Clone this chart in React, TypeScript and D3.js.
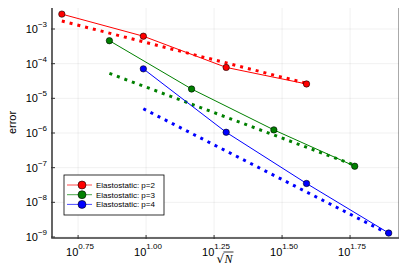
import React, { useEffect, useRef } from 'react';
import * as d3 from 'd3';

// sqrt(N) and error per series
const labels = ['Elastostatic: p=2', 'Elastostatic: p=3', 'Elastostatic: p=4'];
const colors = ['#ff0000', '#008000', '#0000ff'];
const xP2 = [4.9, 9.77, 19.7, 38.9];
const yP2 = [2.69e-3, 6.2e-4, 7.8e-5, 2.6e-5];
const xP3 = [7.33, 14.7, 29.5, 58.5];
const yP3 = [4.6e-4, 1.86e-5, 1.23e-6, 1.1e-7];
const xP4 = [9.77, 19.7, 38.9, 78.0];
const yP4 = [7.1e-5, 1.05e-6, 3.5e-8, 1.3e-9];
// reference slope lines (end points)
const refX = [[4.9, 38.9], [7.33, 58.5], [9.77, 78.0]];
const refY = [[1.7e-3, 2.7e-5], [5.25e-5, 1.17e-7], [5.0e-6, 1.23e-9]];
const xTicks = [0.75, 1.0, 1.25, 1.5, 1.75];
const yTicks = [-3, -4, -5, -6, -7, -8, -9];

const W = 407;
const H = 271;
const left = 52, right = 399, top = 7, bottom = 238;

export default function App() {
  const ref = useRef<SVGSVGElement>(null);

  useEffect(() => {
    const svg = d3.select(ref.current);
    svg.selectAll('*').remove();

    const x = d3.scaleLog().domain([10 ** 0.654, 10 ** 1.93]).range([left, right]);
    const y = d3.scaleLog().domain([10 ** -9.029, 10 ** -2.365]).range([bottom, top]);

    svg.append('rect').attr('width', W).attr('height', H).attr('fill', 'white');

    // grid
    const g = svg.append('g');
    g.selectAll('.gx').data(xTicks).join('line')
      .attr('x1', d => x(10 ** d)).attr('x2', d => x(10 ** d))
      .attr('y1', top).attr('y2', bottom)
      .attr('stroke', '#000').attr('stroke-opacity', 0.1).attr('stroke-width', 0.6);
    g.selectAll('.gy').data(yTicks).join('line')
      .attr('y1', d => y(10 ** d)).attr('y2', d => y(10 ** d))
      .attr('x1', left).attr('x2', right)
      .attr('stroke', '#000').attr('stroke-opacity', 0.1).attr('stroke-width', 0.6);

    // frame
    svg.append('rect')
      .attr('x', left).attr('y', top).attr('width', right - left).attr('height', bottom - top)
      .attr('fill', 'none').attr('stroke', '#555').attr('stroke-width', 1);
    svg.append('path')
      .attr('d', `M${left},${top}V${bottom}H${right}`)
      .attr('fill', 'none').attr('stroke', '#555').attr('stroke-width', 1.6);

    // tick marks
    svg.selectAll('.tx').data(xTicks).join('line')
      .attr('x1', d => x(10 ** d)).attr('x2', d => x(10 ** d))
      .attr('y1', bottom + 1).attr('y2', bottom - 3)
      .attr('stroke', '#333');
    svg.selectAll('.ty').data(yTicks).join('line')
      .attr('y1', d => y(10 ** d)).attr('y2', d => y(10 ** d))
      .attr('x1', left - 1).attr('x2', left + 3)
      .attr('stroke', '#333');

    const font = 'Liberation Sans, Arial, sans-serif';

    // y tick labels
    const yl = svg.selectAll('.yl').data(yTicks).join('text')
      .attr('x', left - 5).attr('y', d => y(10 ** d) + 4)
      .attr('text-anchor', 'end')
      .attr('font-family', font).attr('font-size', 11).attr('fill', '#000');
    yl.append('tspan').text('10');
    yl.append('tspan').attr('dy', -6).attr('font-size', 8).text(d => '\u2212' + String(-d));

    // x tick labels
    const xl = svg.selectAll('.xl').data(xTicks).join('text')
      .attr('x', d => x(10 ** d) - 12).attr('y', bottom + 18)
      .attr('font-family', font).attr('font-size', 11).attr('fill', '#000');
    xl.append('tspan').text('10');
    xl.append('tspan').attr('dy', -7).attr('font-size', 8).text(d => d.toFixed(2));

    // axis labels
    svg.append('text')
      .attr('transform', `translate(16,${(top + bottom) / 2}) rotate(-90)`)
      .attr('text-anchor', 'middle')
      .attr('font-family', font).attr('font-size', 11).text('error');
    const xlab = svg.append('g').attr('transform', `translate(${(left + right) / 2 - 9},${H - 8})`);
    xlab.append('text').attr('x', 0).attr('y', 0)
      .attr('font-family', 'DejaVu Serif, serif').attr('font-size', 12).text('\u221A');
    xlab.append('text').attr('x', 8).attr('y', 0)
      .attr('font-family', 'Liberation Serif, serif').attr('font-style', 'italic')
      .attr('font-size', 12).text('N');
    xlab.append('line').attr('x1', 7).attr('x2', 17).attr('y1', -11).attr('y2', -11)
      .attr('stroke', '#000').attr('stroke-width', 0.8);

    const series = [
      { xs: xP2, ys: yP2 },
      { xs: xP3, ys: yP3 },
      { xs: xP4, ys: yP4 },
    ];

    // reference slopes (dotted)
    refX.forEach((rx, i) => {
      svg.append('line')
        .attr('x1', x(rx[0])).attr('y1', y(refY[i][0]))
        .attr('x2', x(rx[1])).attr('y2', y(refY[i][1]))
        .attr('stroke', colors[i]).attr('stroke-width', 3)
        .attr('stroke-dasharray', '3,5');
    });

    const line = d3.line<[number, number]>().x(d => x(d[0])).y(d => y(d[1]));
    series.forEach((s, i) => {
      const pts = s.xs.map((v, j) => [v, s.ys[j]] as [number, number]);
      svg.append('path').attr('d', line(pts)).attr('fill', 'none')
        .attr('stroke', colors[i]).attr('stroke-width', 1);
      svg.selectAll(`.m${i}`).data(pts).join('circle')
        .attr('cx', d => x(d[0])).attr('cy', d => y(d[1])).attr('r', 3.2)
        .attr('fill', colors[i]).attr('stroke', '#000').attr('stroke-width', 0.6);
    });

    // legend
    const lg = svg.append('g').attr('transform', 'translate(64,175)');
    lg.append('rect').attr('width', 100).attr('height', 40)
      .attr('fill', 'white').attr('stroke', '#000').attr('stroke-width', 0.8);
    labels.forEach((lab, i) => {
      const yy = 10 + i * 9.7;
      lg.append('line').attr('x1', 3).attr('x2', 28).attr('y1', yy).attr('y2', yy)
        .attr('stroke', colors[i]).attr('stroke-width', 1).attr('stroke-opacity', 0.7);
      lg.append('circle').attr('cx', 18).attr('cy', yy).attr('r', 4)
        .attr('fill', colors[i]).attr('stroke', '#000').attr('stroke-width', 0.6);
      lg.append('text').attr('x', 32).attr('y', yy + 3)
        .attr('font-family', font).attr('font-size', 8).text(lab);
    });
  }, []);

  return <svg ref={ref} width={W} height={H} style={{ display: 'block', margin: -8 }} />;
}
